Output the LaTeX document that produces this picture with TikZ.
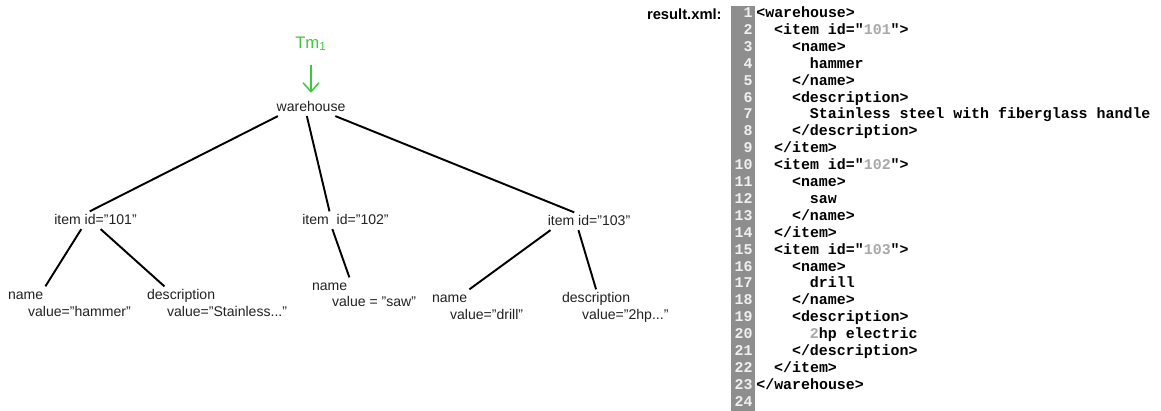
\documentclass[tikz,border=0pt]{standalone}
\usepackage{fontspec}
\setmainfont{Liberation Sans}
\setmonofont{Liberation Mono}
\usetikzlibrary{positioning,arrows.meta}
\definecolor{tmgreen}{HTML}{3CC83C}
\definecolor{treetext}{HTML}{222222}
\definecolor{gutterbg}{HTML}{8E8E8E}
\definecolor{gutternum}{HTML}{F0F0F0}
\definecolor{xmlnum}{HTML}{A8A8A8}
\newcommand{\xnum}[1]{\textcolor{xmlnum}{#1}}

\begin{document}
\begin{tikzpicture}[x=0.02cm,y=-0.02cm,
  tag/.style={font=\fontsize{8}{9.6}\selectfont,text=treetext,inner sep=1pt,text height=6pt,text depth=1.7pt},
  tmlabel/.style={font=\fontsize{9.5}{11}\selectfont,text=tmgreen,inner sep=1pt},
  branch/.style={line width=1.1pt,black},
  tmarrow/.style={-{Straight Barb[length=5pt,width=9pt]},tmgreen,line width=0.85pt,shorten <=7pt,shorten >=3.2pt},
  fname/.style={font=\fontsize{8.4}{10}\selectfont\bfseries,inner sep=0pt},
  lnum/.style={font=\fontsize{8.5}{10}\selectfont\ttfamily\bfseries,text=gutternum,inner sep=0pt},
  xmlline/.style={font=\fontsize{8.5}{10}\selectfont\ttfamily\bfseries,inner sep=0pt}
]
\useasboundingbox (0,0) rectangle (1161,410);

% tree
\node[tmlabel,anchor=base] (tm) at (311,48) {Tm\textsubscript{1}};
\node[tag,anchor=base] (wh) at (311,111) {warehouse};
\node[tag,anchor=base] (i101) at (95.5,224) {item id="101"};
\node[tag,anchor=base] (i102) at (345.5,224) {item\ \ id="102"};
\node[tag,anchor=base] (i103) at (589,225) {item id="103"};

\node[tag,anchor=base west] (n1) at (6,299) {name};
\node[tag,anchor=base west] (v1) at ([shift={(20,17)}]n1.base west) {value="hammer"};
\node[tag,anchor=base west] (d1) at (145,299) {description};
\node[tag,anchor=base west] (dv1) at ([shift={(20,17)}]d1.base west) {value="Stainless..."};
\node[tag,anchor=base west] (n2) at (310,290) {name};
\node[tag,anchor=base west] (v2) at ([shift={(20,16)}]n2.base west) {value = "saw"};
\node[tag,anchor=base west] (n3) at (430,302) {name};
\node[tag,anchor=base west] (v3) at ([shift={(18,17)}]n3.base west) {value="drill"};
\node[tag,anchor=base west] (d3) at (560,302) {description};
\node[tag,anchor=base west] (dv3) at ([shift={(20,17)}]d3.base west) {value="2hp..."};

\draw[tmarrow] (tm) -- (wh);
\draw[branch] (wh.195) -- (i101.123);
\draw[branch] (wh.245) -- (i102.151);
\draw[branch] (wh.-20) -- (i103.149);
\draw[branch] (i101.212) -- (n1.north east);
\draw[branch] (i101.-60) -- (d1.152);
\draw[branch] (i102.214) -- (n2.north east);
\draw[branch] (i103.193) -- (n3.north east);
\draw[branch] (i103.220) -- (d3.north);

% listing
\node[fname,anchor=base east] (file) at (722,19) {result.xml:};
\fill[gutterbg] (731,6) rectangle (755,412);
\foreach \n/\ind/\txt in {1/0/{<warehouse>},2/2/{<item id="\xnum{101}">},3/4/{<name>},
  4/6/{hammer},5/4/{</name>},6/4/{<description>},7/6/{Stainless steel with fiberglass handle},
  8/4/{</description>},9/2/{</item>},10/2/{<item id="\xnum{102}">},11/4/{<name>},
  12/6/{saw},13/4/{</name>},14/2/{</item>},15/2/{<item id="\xnum{103}">},16/4/{<name>},
  17/6/{drill},18/4/{</name>},19/4/{<description>},20/6/{\xnum{2}hp electric},
  21/4/{</description>},22/2/{</item>},23/0/{</warehouse>},24/0/{}}{
  \node[lnum,anchor=base east] (ln\n) at (753,{17.5+16.9*(\n-1)}) {\n};
  \node[xmlline,anchor=base west] (xl\n) at ({756+8.93*\ind},{17.5+16.9*(\n-1)}) {\txt};
}
\end{tikzpicture}
\end{document}
